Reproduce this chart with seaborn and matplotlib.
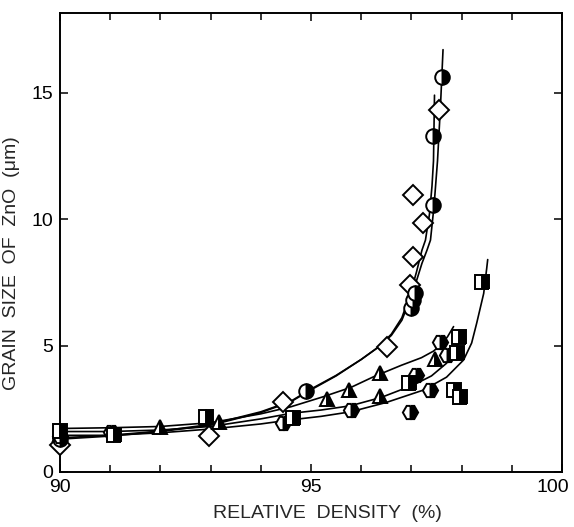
import matplotlib
matplotlib.use("Agg")
import matplotlib.pyplot as plt
import matplotlib.transforms as mtransforms
import seaborn as sns
from matplotlib.ticker import MultipleLocator

sns.set_style("ticks")
plt.rcParams["font.family"] = ["Liberation Sans", "DejaVu Sans"]

# ---- measured points (relative density %, grain size um) ----
diamond_x = [90.0, 92.96, 94.45, 96.52, 96.98, 97.04, 97.04, 97.24, 97.55]
diamond_y = [1.05, 1.42, 2.77, 4.94, 7.4, 8.5, 10.95, 9.84, 14.3]

circle_x = [90.0, 94.9, 97.0, 97.04, 97.08, 97.44, 97.44, 97.61]
circle_y = [1.3, 3.2, 6.47, 6.8, 7.06, 10.55, 13.3, 15.6]

triangle_x = [90.0, 91.99, 93.16, 95.32, 95.75, 96.38, 96.38, 97.47]
triangle_y = [1.5, 1.78, 1.97, 2.88, 3.24, 3.9, 3.02, 4.48]

hexagon_x = [90.0, 91.01, 94.45, 95.79, 96.98, 97.1, 97.38, 97.57, 97.7]
hexagon_y = [1.42, 1.58, 1.94, 2.45, 2.38, 3.83, 3.24, 5.15, 4.62]

square_x = [90.0, 91.07, 92.9, 94.65, 96.95, 97.94, 97.9, 97.84, 97.97, 98.4]
square_y = [1.62, 1.46, 2.17, 2.13, 3.5, 5.35, 4.69, 3.24, 2.98, 7.52]

# ---- fitted curves ----
curveD_x = [90, 91, 92, 93, 94, 94.6, 95, 95.5, 96, 96.35, 96.6, 96.81, 96.98, 97.1, 97.21, 97.28, 97.36, 97.41, 97.44, 97.46]
curveD_y = [1.3, 1.42, 1.6, 1.85, 2.35, 2.78, 3.25, 3.8, 4.45, 4.95, 5.45, 6.1, 7.05, 7.9, 8.77, 9.17, 10.2, 11.3, 12.3, 14.9]

curveC_x = [90, 91, 92, 93, 94, 94.6, 95, 95.5, 96, 96.35, 96.6, 96.81, 96.98, 97.1, 97.21, 97.31, 97.38, 97.45, 97.52, 97.58, 97.63]
curveC_y = [1.35, 1.45, 1.62, 1.88, 2.38, 2.8, 3.28, 3.82, 4.45, 4.95, 5.4, 6.0, 6.85, 7.55, 8.25, 8.77, 9.17, 10.5, 12.3, 14.5, 16.7]

curveT_x = [90, 91, 92, 93, 94, 94.6, 95.25, 95.8, 96.25, 96.8, 97.2, 97.44, 97.6, 97.72, 97.84]
curveT_y = [1.72, 1.75, 1.8, 1.95, 2.3, 2.58, 2.98, 3.35, 3.77, 4.22, 4.52, 4.78, 5.05, 5.35, 5.75]

curveH_x = [90, 91, 92, 93, 94, 94.6, 95.2, 95.79, 96.4, 97.04, 97.4, 97.7, 97.85, 97.95]
curveH_y = [1.6, 1.6, 1.66, 1.8, 2.1, 2.32, 2.45, 2.62, 2.95, 3.44, 3.8, 4.3, 4.75, 5.2]

curveS_x = [90, 91, 92, 93, 94, 94.59, 95.2, 95.79, 96.5, 97.24, 97.7, 98.04, 98.2, 98.3, 98.44, 98.5, 98.52]
curveS_y = [1.45, 1.45, 1.55, 1.7, 1.9, 2.06, 2.2, 2.38, 2.75, 3.24, 3.75, 4.43, 5.1, 5.88, 7.06, 8.05, 8.4]

x_ticks = [90, 95, 100]
y_ticks = [0, 5, 10, 15]

fig = plt.figure(figsize=(5.74, 5.27), dpi=100)
ax = fig.add_axes([60 / 574, 1 - 472 / 527, (562 - 60) / 574, (472 - 13) / 527])

for cx, cy in [(curveD_x, curveD_y), (curveC_x, curveC_y), (curveT_x, curveT_y),
               (curveH_x, curveH_y), (curveS_x, curveS_y)]:
    sns.lineplot(x=cx, y=cy, ax=ax, color="black", lw=1.2, estimator=None, sort=False, zorder=2)

def half(xs, ys, marker, ms):
    sns.lineplot(x=xs, y=ys, ax=ax, estimator=None, sort=False, linestyle="",
                 marker=marker, markersize=ms, fillstyle="right",
                 markerfacecolor="black", markerfacecoloralt="white",
                 markeredgecolor="black", markeredgewidth=1.4, color="black",
                 zorder=3, clip_on=False)

sns.lineplot(x=diamond_x, y=diamond_y, ax=ax, estimator=None, sort=False, linestyle="",
             marker="D", markersize=10, markerfacecolor="white", markeredgecolor="black",
             markeredgewidth=1.4, color="black", zorder=3, clip_on=False)
half(circle_x, circle_y, "o", 10.5)
half(triangle_x, triangle_y, "^", 10.5)
half(hexagon_x, hexagon_y, "H", 11)
half(square_x, square_y, "s", 9.5)

ax.set_xlim(90, 100)
ax.set_ylim(0, 18.15)
ax.set_xticks(x_ticks)
ax.set_yticks(y_ticks)
ax.xaxis.set_minor_locator(MultipleLocator(1))
ax.tick_params(which="both", direction="in", top=True, right=True, labelsize=14,
               width=1.1, color="black", labelcolor="black")
ax.tick_params(which="major", length=6, pad=5)
ax.tick_params(which="minor", length=5)
for s in ax.spines.values():
    s.set_linewidth(1.4)
    s.set_color("black")

last = ax.xaxis.get_major_ticks()[-1].label1
last.set_transform(last.get_transform() + mtransforms.ScaledTranslation(-9 / 100, 0, fig.dpi_scale_trans))

ax.set_xlabel("RELATIVE  DENSITY  (%)", fontsize=14)
ax.set_ylabel("GRAIN  SIZE  OF  ZnO  (\u03bcm)", fontsize=14)
ax.xaxis.set_label_coords((327 - 60) / 502, -(505 - 472) / 459)
ax.yaxis.set_label_coords(-(60 - 20) / 502, (472 - 263) / 459)

fig.savefig("out.png", dpi=100)
